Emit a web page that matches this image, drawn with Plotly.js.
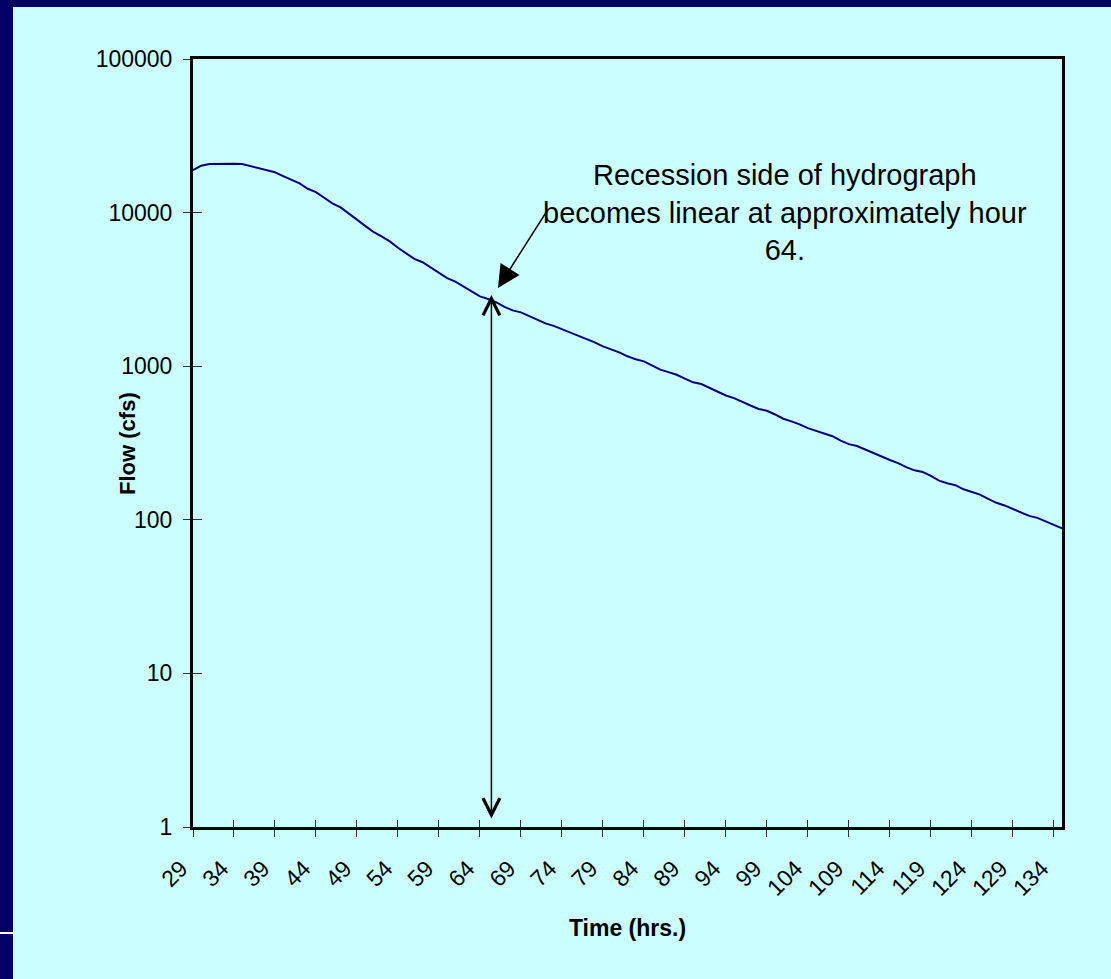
<!DOCTYPE html>
<html>
<head>
<meta charset="utf-8">
<script src="https://cdn.plot.ly/plotly-3.0.1.min.js"></script>
<style>
  html, body { margin: 0; padding: 0; width: 1111px; height: 979px; overflow: hidden; background: #000066; }
  #panel { position: absolute; left: 13px; top: 7px; right: 0; bottom: 0; background: #CCFFFF; }
  #rule { position: absolute; left: 0; top: 932px; width: 13px; height: 2px; background: #ffffff; }
  #chart { position: absolute; left: 0; top: 0; width: 1111px; height: 979px; }
</style>
</head>
<body>
<div id="panel"></div>
<div id="rule"></div>
<div id="chart"></div>
<script>
// Hourly time steps of the hydrograph (hrs.)
const hours = [];
for (let h = 29; h <= 135; h++) hours.push(h);

// Streamflow at each hour (cfs)
const flow = [
  18900, 20200, 20700, 20800, 20800, 20800, 20700, 20100, 19400, 18800,
  18300, 17300, 16400, 15500, 14300, 13600, 12500, 11500, 10800, 9900,
  9000, 8200, 7500, 7000, 6500, 5900, 5400, 5000, 4750, 4400,
  4050, 3740, 3550, 3300, 3050, 2850, 2740, 2600, 2430, 2310,
  2240, 2120, 1990, 1900, 1830, 1740, 1650, 1580, 1510, 1430,
  1345, 1290, 1230, 1160, 1110, 1075, 1010, 950, 915, 880,
  830, 785, 765, 720, 680, 645, 620, 590, 555, 527,
  513, 485, 455, 437, 418, 395, 378, 364, 350, 328,
  311, 302, 286, 270, 256, 245, 234, 220, 210, 205,
  193, 180, 173, 168, 158, 151, 146, 137, 129, 124,
  118, 111, 106, 103, 98, 93, 88
];

// Labelled ticks on the time axis (every 5 hours)
const timeTicks = [29, 34, 39, 44, 49, 54, 59, 64, 69, 74, 79, 84, 89, 94, 99, 104, 109, 114, 119, 124, 129, 134];

// Decade ticks on the flow axis
const flowTicks = [1, 10, 100, 1000, 10000, 100000];
const flowTickText = ['1', '10', '100', '1000', '10000', '100000'];

// Axis titles
const xTitle = 'Time (hrs.)';
const yTitle = 'Flow (cfs)';

// Callouts
const noteText = 'Recession side of hydrograph<br>becomes linear at approximately hour<br>64.';
const notePos = { hour: 101.2, flow: 10000 };
const pointerTip = { hour: 66.2, flow: 3230 };
const markerLine = { hour: 65.4, top: 2910, bottom: 1.11 };

const FONT = 'Arial, "Liberation Sans", sans-serif';

const traces = [
  {
    x: hours, y: flow, type: 'scatter', mode: 'lines',
    line: { color: '#000080', width: 2 },
    hoverinfo: 'x+y', showlegend: false
  },
  // carrier for the overlay axes that draw the inner half of the tick marks
  { x: [], y: [], xaxis: 'x2', yaxis: 'y2', type: 'scatter', mode: 'lines', showlegend: false, hoverinfo: 'skip' }
];

const xRange = [hours[0], hours[hours.length - 1]];
const yRange = [0, 5];

const layout = {
  width: 1111, height: 979,
  paper_bgcolor: 'rgba(0,0,0,0)',
  plot_bgcolor: '#CCFFFF',
  margin: { l: 193, r: 49, t: 59, b: 152 },
  font: { family: FONT, color: '#000000' },
  showlegend: false,
  xaxis: {
    range: xRange, tickmode: 'array', tickvals: timeTicks, ticktext: timeTicks.map(String),
    tickangle: -45, tickfont: { size: 23, family: FONT },
    ticks: 'outside', ticklen: 7, tickwidth: 1, tickcolor: '#333333',
    showline: true, linecolor: '#000000', linewidth: 3, mirror: true,
    showgrid: false, zeroline: false, ticklabelstandoff: 9, ticklabelshift: -12,
    title: { text: '<b>' + xTitle + '</b>', font: { size: 23, family: FONT }, standoff: 20 }
  },
  yaxis: {
    type: 'log', range: yRange, tickmode: 'array', tickvals: flowTicks, ticktext: flowTickText,
    tickfont: { size: 23, family: FONT },
    ticks: 'outside', ticklen: 7, tickwidth: 1, tickcolor: '#333333',
    showline: true, linecolor: '#000000', linewidth: 3, mirror: true,
    showgrid: false, zeroline: false, ticklabelstandoff: 6
  },
  xaxis2: {
    overlaying: 'x', anchor: 'y', range: xRange, tickmode: 'array', tickvals: timeTicks,
    showticklabels: false, ticks: 'inside', ticklen: 7, tickwidth: 1, tickcolor: '#333333',
    showline: false, showgrid: false, zeroline: false
  },
  yaxis2: {
    overlaying: 'y', anchor: 'x', type: 'log', range: yRange, tickmode: 'array', tickvals: flowTicks,
    showticklabels: false, ticks: 'inside', ticklen: 9, tickwidth: 1, tickcolor: '#333333',
    showline: false, showgrid: false, zeroline: false
  },
  annotations: [
    {
      // vertical axis title, set close in beside the short tick labels
      x: -0.076, y: 0.5, xref: 'paper', yref: 'paper', xanchor: 'center', yanchor: 'middle',
      text: '<b>' + yTitle + '</b>', textangle: -90, showarrow: false,
      font: { size: 22, family: FONT, color: '#000000' }
    },
    {
      x: notePos.hour, y: Math.log10(notePos.flow), xref: 'x', yref: 'y',
      text: noteText, showarrow: false, align: 'center',
      font: { size: 29, family: FONT, color: '#000000' }
    },
    {
      x: pointerTip.hour, y: Math.log10(pointerTip.flow), xref: 'x', yref: 'y',
      text: '', showarrow: true, ax: 49, ay: -77,
      arrowhead: 2, arrowsize: 3, arrowwidth: 1.5, arrowcolor: '#000000', standoff: 0
    },
    {
      x: markerLine.hour, y: Math.log10(markerLine.top), xref: 'x', yref: 'y',
      ax: markerLine.hour, ay: Math.log10(markerLine.bottom), axref: 'x', ayref: 'y',
      text: '', showarrow: true, arrowside: 'end+start',
      arrowhead: 5, startarrowhead: 5, arrowsize: 2.2, startarrowsize: 2.2,
      arrowwidth: 1.5, arrowcolor: '#000000', standoff: 0, startstandoff: 0
    }
  ]
};

Plotly.newPlot('chart', traces, layout, { staticPlot: true, displayModeBar: false });
</script>
</body>
</html>
